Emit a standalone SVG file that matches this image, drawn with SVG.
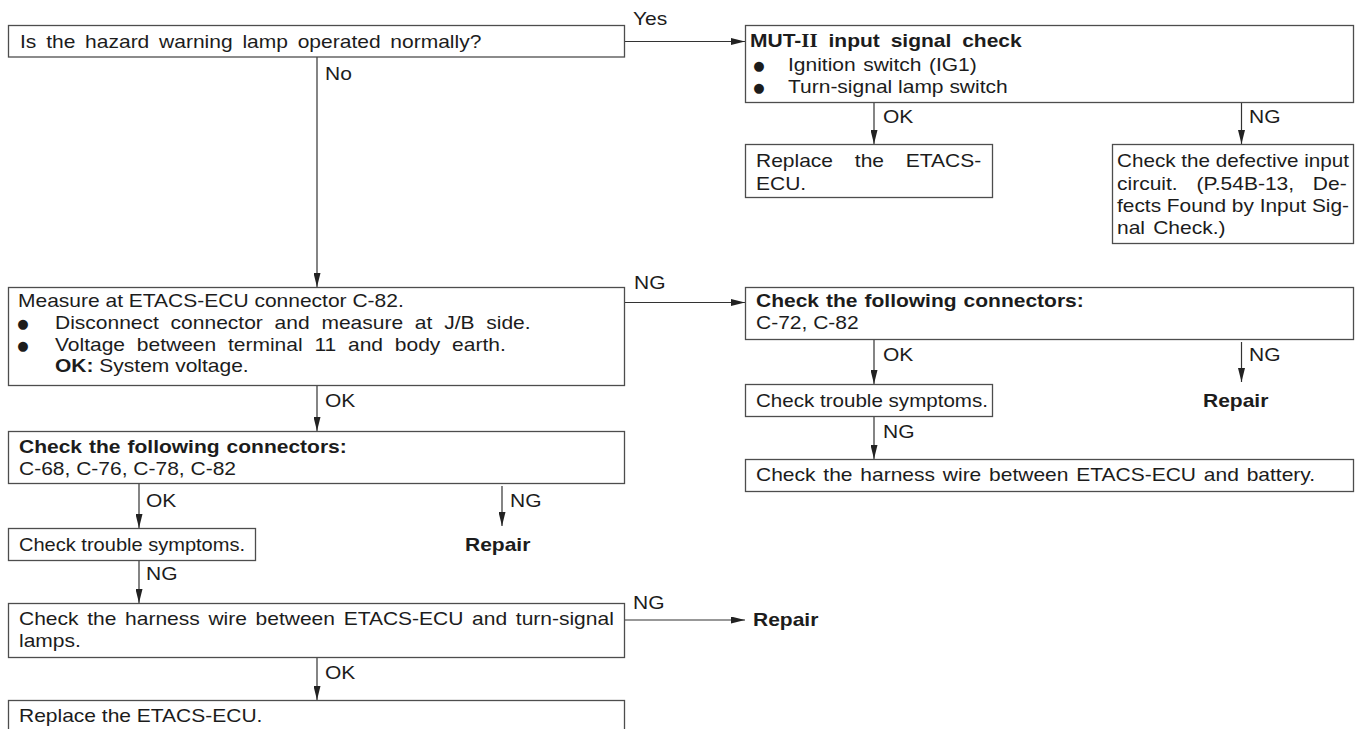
<svg xmlns="http://www.w3.org/2000/svg" width="1355" height="729" viewBox="0 0 1355 729">
<style>
.t{font-family:"Liberation Sans",Arial,Helvetica,sans-serif;font-size:18px;fill:#1c1c1c}
.b{font-weight:bold}
.sr{font-family:"Liberation Serif","Times New Roman",serif}
.bx{fill:#fff;stroke:#4d4d4d;stroke-width:1.3}
.c{fill:none;stroke:#333;stroke-width:1.2}
.bul{font-family:"DejaVu Sans",sans-serif;font-size:13px;fill:#1c1c1c;text-anchor:middle}
</style>
<defs>
<marker id="ah" viewBox="0 0 14 7" refX="14" refY="3.5" markerWidth="14" markerHeight="7" markerUnits="userSpaceOnUse" orient="auto">
<path d="M0,0 L14,3.5 L0,7 z" fill="#222"/>
</marker>
</defs>
<rect width="1355" height="729" fill="#fff"/>

<g id="connectors">
<path class="c" d="M624.5,41.5 H745" marker-end="url(#ah)"/>
<path class="c" d="M317,57 V287" marker-end="url(#ah)"/>
<path class="c" d="M874,102.5 V144" marker-end="url(#ah)"/>
<path class="c" d="M1241.5,102.5 V144" marker-end="url(#ah)"/>
<path class="c" d="M624.5,302.5 H745" marker-end="url(#ah)"/>
<path class="c" d="M317,385.5 V431" marker-end="url(#ah)"/>
<path class="c" d="M874,339.5 V384" marker-end="url(#ah)"/>
<path class="c" d="M1241.5,342 V382" marker-end="url(#ah)"/>
<path class="c" d="M874,416.5 V459" marker-end="url(#ah)"/>
<path class="c" d="M139,483.5 V528" marker-end="url(#ah)"/>
<path class="c" d="M502,486 V526" marker-end="url(#ah)"/>
<path class="c" d="M139,560.5 V603" marker-end="url(#ah)"/>
<path class="c" d="M624.5,620 H745" marker-end="url(#ah)"/>
<path class="c" d="M317,657.5 V700" marker-end="url(#ah)"/>
<text class="t" transform="translate(633 25) scale(1.167 1)">Yes</text>
<text class="t" transform="translate(325 80) scale(1.167 1)">No</text>
<text class="t" transform="translate(883 123) scale(1.167 1)">OK</text>
<text class="t" transform="translate(1249 123) scale(1.167 1)">NG</text>
<text class="t" transform="translate(634 289) scale(1.167 1)">NG</text>
<text class="t" transform="translate(325 407) scale(1.167 1)">OK</text>
<text class="t" transform="translate(883 361) scale(1.167 1)">OK</text>
<text class="t" transform="translate(1249 361) scale(1.167 1)">NG</text>
<text class="t" transform="translate(883 438) scale(1.167 1)">NG</text>
<text class="t" transform="translate(146 507) scale(1.167 1)">OK</text>
<text class="t" transform="translate(510 507) scale(1.167 1)">NG</text>
<text class="t" transform="translate(146 580) scale(1.167 1)">NG</text>
<text class="t" transform="translate(633 609) scale(1.167 1)">NG</text>
<text class="t" transform="translate(325 679) scale(1.167 1)">OK</text>
</g>

<g id="n-hazard">
<rect class="bx" x="8.5" y="25.5" width="616" height="31.5"/>
<text class="t" transform="translate(20 48) scale(1.167 1)" word-spacing="3.4">Is the hazard warning lamp operated normally?</text>
</g>

<g id="n-mut">
<rect class="bx" x="745.5" y="25.5" width="608" height="77"/>
<text class="t b" transform="translate(750 47) scale(1.167 1)" word-spacing="4.3">MUT-<tspan class="sr">II</tspan> input signal check</text>
<text class="bul" x="759" y="70">●</text>
<text class="t" transform="translate(788 71) scale(1.167 1)" word-spacing="1.4">Ignition switch (IG1)</text>
<text class="bul" x="759" y="92">●</text>
<text class="t" transform="translate(788 93) scale(1.167 1)">Turn-signal lamp switch</text>
</g>

<g id="n-replace1">
<rect class="bx" x="745.5" y="144.5" width="247" height="53"/>
<text class="t" transform="translate(756 167) scale(1.167 1)" word-spacing="13.7">Replace the ETACS-</text>
<text class="t" transform="translate(756 190) scale(1.167 1)">ECU.</text>
</g>

<g id="n-defective">
<rect class="bx" x="1112.5" y="144.5" width="241" height="99"/>
<text class="t" transform="translate(1117 167) scale(1.167 1)" textLength="198.8" lengthAdjust="spacingAndGlyphs">Check the defective input</text>
<text class="t" transform="translate(1117 190) scale(1.167 1)" word-spacing="11.1">circuit. (P.54B-13, De-</text>
<text class="t" transform="translate(1117 212) scale(1.167 1)" textLength="198.8" lengthAdjust="spacingAndGlyphs">fects Found by Input Sig-</text>
<text class="t" transform="translate(1117 234) scale(1.167 1)" word-spacing="2">nal Check.)</text>
</g>

<g id="n-measure">
<rect class="bx" x="8.5" y="287.5" width="616" height="98"/>
<text class="t" transform="translate(18 307) scale(1.167 1)">Measure at ETACS-ECU connector C-82.</text>
<text class="bul" x="23" y="328">●</text>
<text class="t" transform="translate(55 329) scale(1.167 1)" word-spacing="5.1">Disconnect connector and measure at J/B side.</text>
<text class="bul" x="23" y="350">●</text>
<text class="t" transform="translate(55 351) scale(1.167 1)" word-spacing="5.1">Voltage between terminal 11 and body earth.</text>
<text class="t" transform="translate(55 372) scale(1.167 1)"><tspan class="b">OK:</tspan>  System voltage.</text>
</g>

<g id="n-connR">
<rect class="bx" x="745.5" y="287.5" width="608" height="52"/>
<text class="t b" transform="translate(756 307) scale(1.167 1)" word-spacing="1">Check the following connectors:</text>
<text class="t" transform="translate(756 329) scale(1.167 1)">C-72, C-82</text>
</g>

<g id="n-troubleR">
<rect class="bx" x="745.5" y="384.5" width="247" height="32"/>
<text class="t" transform="translate(756 407) scale(1.167 1)" textLength="198.8" lengthAdjust="spacingAndGlyphs">Check trouble symptoms.</text>
</g>

<g id="n-repairR1">
<text class="t b" transform="translate(1203 407) scale(1.167 1)">Repair</text>
</g>

<g id="n-harnessR">
<rect class="bx" x="745.5" y="459.5" width="608" height="32"/>
<text class="t" transform="translate(756 481) scale(1.167 1)" word-spacing="1.7">Check the harness wire between ETACS-ECU and battery.</text>
</g>

<g id="n-connL">
<rect class="bx" x="8.5" y="431.5" width="616" height="52"/>
<text class="t b" transform="translate(19 453) scale(1.167 1)" word-spacing="1">Check the following connectors:</text>
<text class="t" transform="translate(19 475) scale(1.167 1)">C-68, C-76, C-78, C-82</text>
</g>

<g id="n-troubleL">
<rect class="bx" x="8.5" y="528.5" width="247" height="32"/>
<text class="t" transform="translate(19 551) scale(1.167 1)" textLength="193.7" lengthAdjust="spacingAndGlyphs">Check trouble symptoms.</text>
</g>

<g id="n-repairL1">
<text class="t b" transform="translate(465 551) scale(1.167 1)">Repair</text>
</g>

<g id="n-harnessL">
<rect class="bx" x="8.5" y="603.5" width="616" height="54"/>
<text class="t" transform="translate(19 625) scale(1.167 1)" word-spacing="2.45">Check the harness wire between ETACS-ECU and turn-signal</text>
<text class="t" transform="translate(19 647) scale(1.167 1)">lamps.</text>
</g>

<g id="n-repairL2">
<text class="t b" transform="translate(753 626) scale(1.167 1)">Repair</text>
</g>

<g id="n-replace2">
<rect class="bx" x="8.5" y="700.5" width="616" height="60"/>
<text class="t" transform="translate(19 722) scale(1.167 1)">Replace the ETACS-ECU.</text>
</g>
</svg>
